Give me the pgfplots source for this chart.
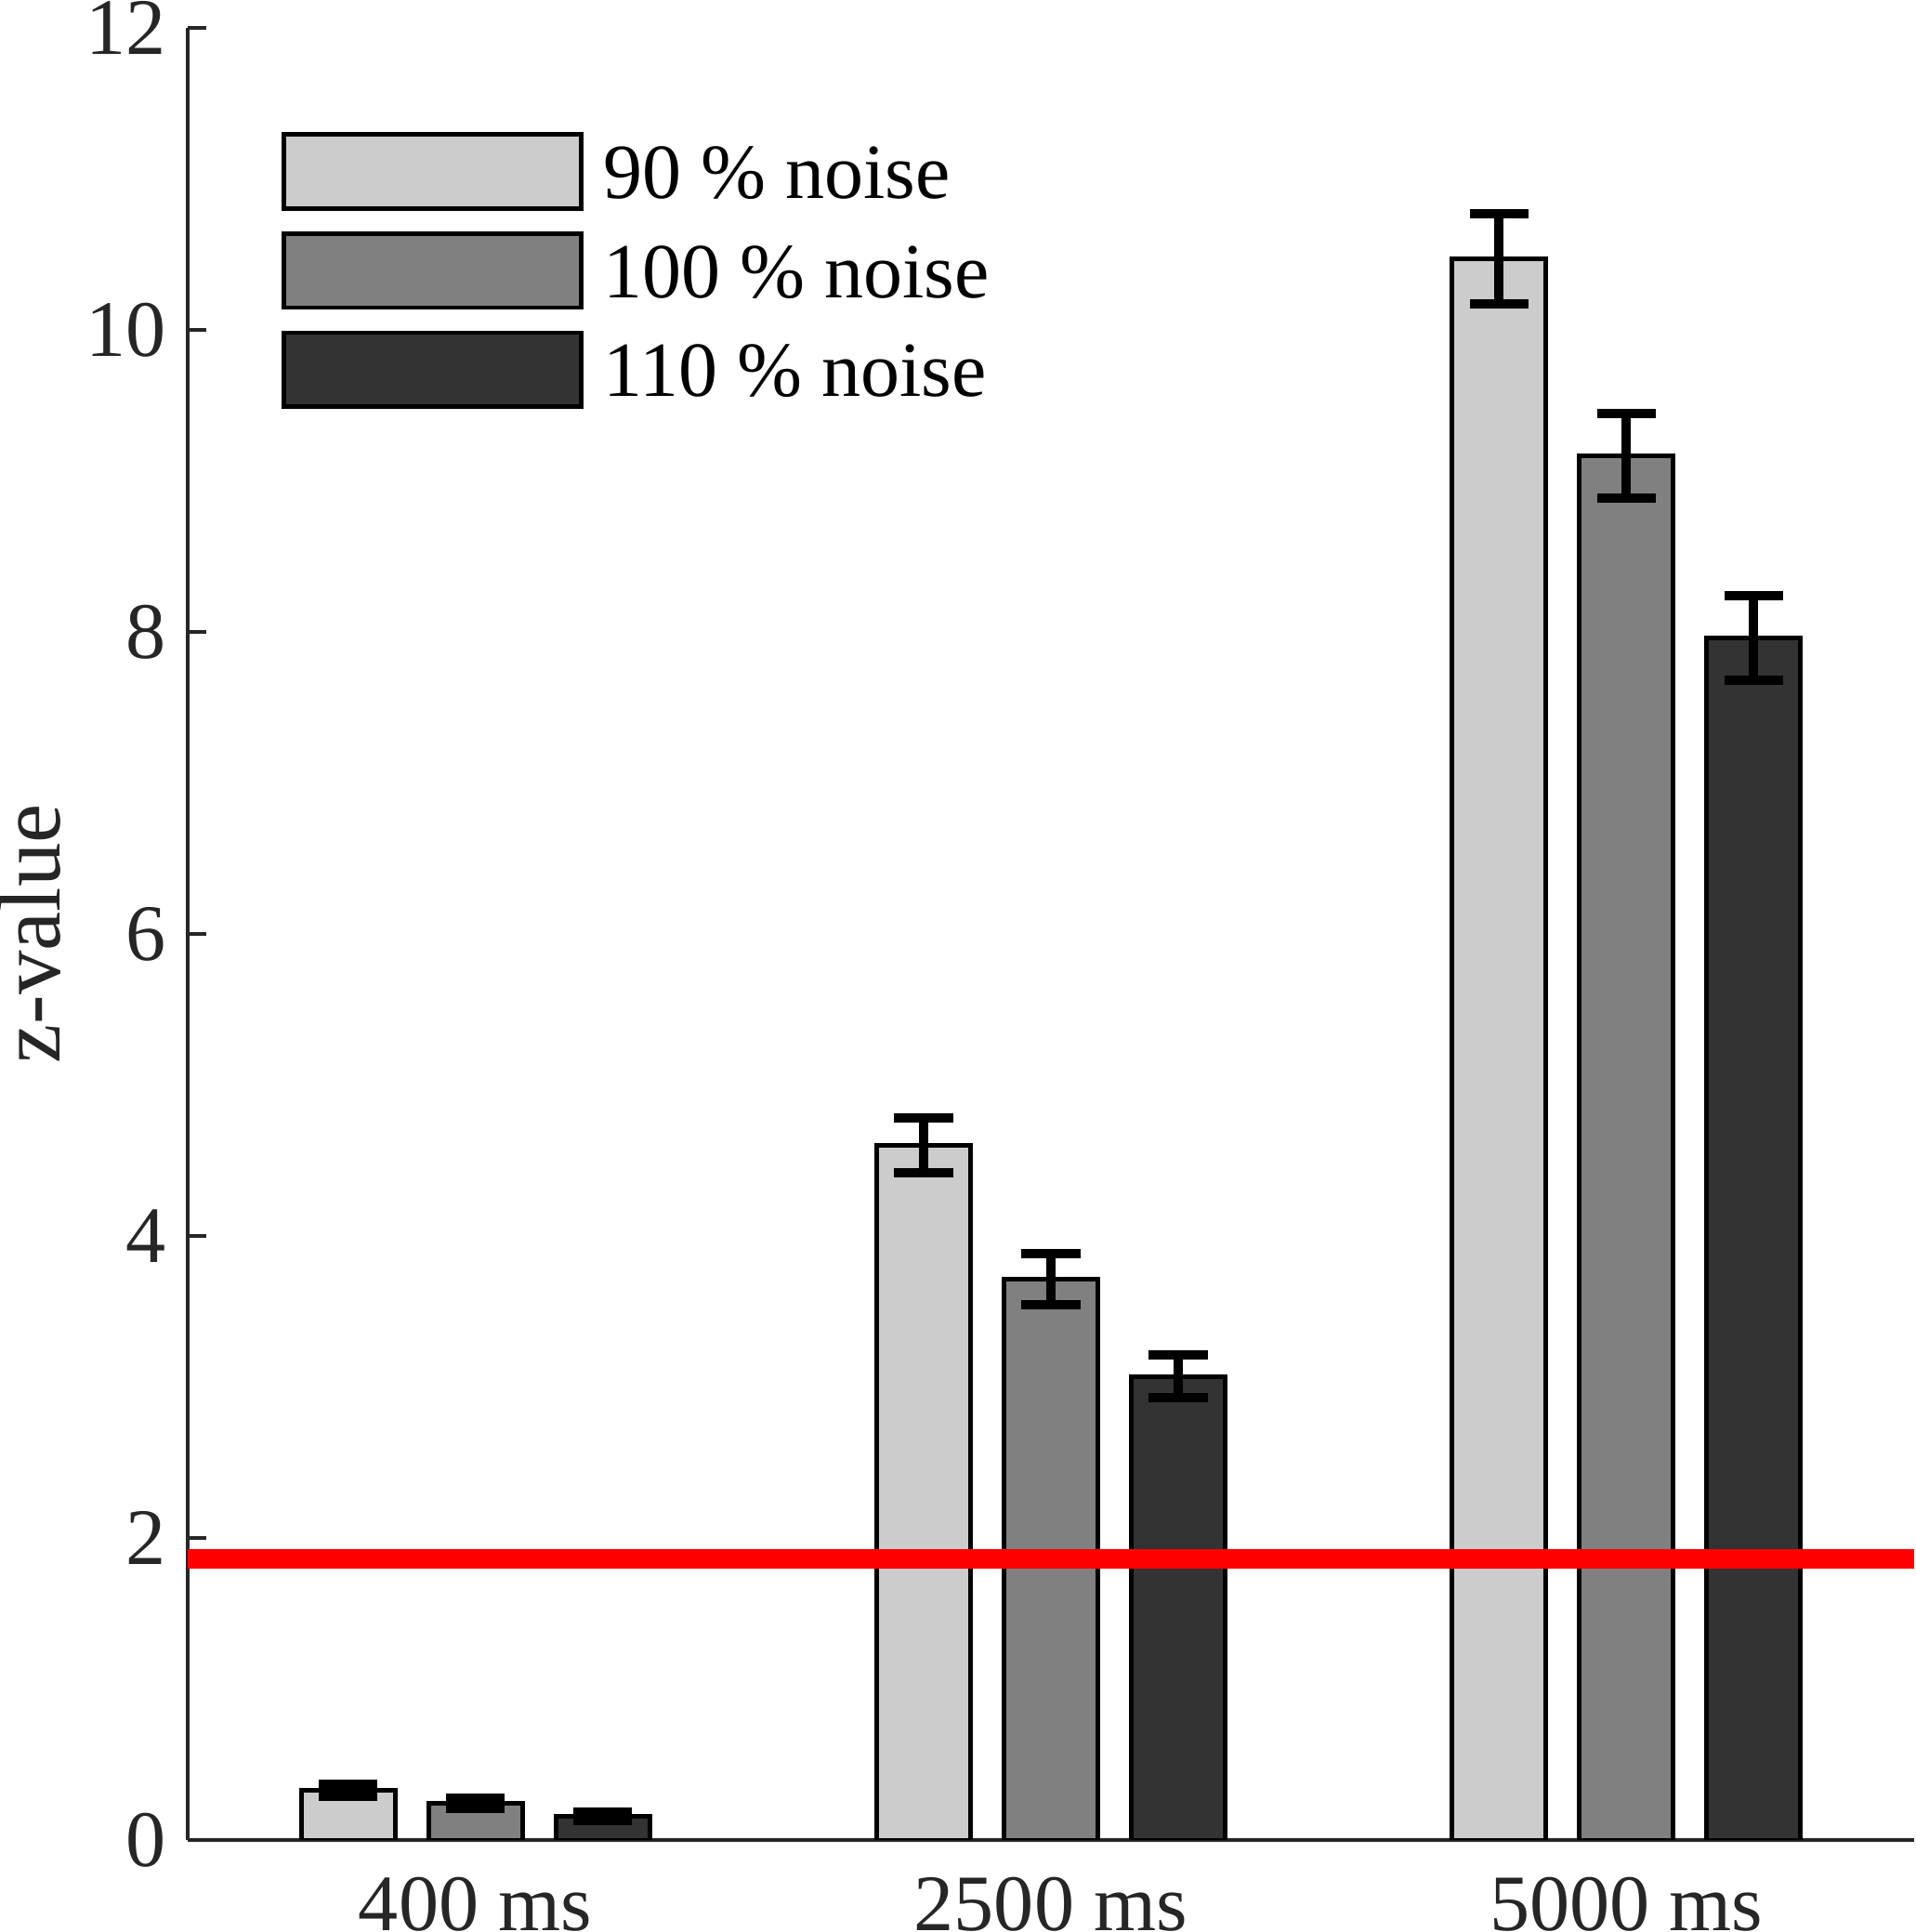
\documentclass[border=0pt]{standalone}
\usepackage{fontspec}
\setmainfont{Liberation Serif}
\usepackage{pgfplots}
\usepackage{pgfplotstable}
\pgfplotsset{compat=1.18}
\definecolor{cA}{HTML}{CCCCCC}
\definecolor{cB}{HTML}{808080}
\definecolor{cC}{HTML}{333333}
\definecolor{axc}{HTML}{262626}

\pgfplotstableread{
x y e
1 0.327 0.040
2 4.600 0.180
3 10.470 0.300
}\dA
\pgfplotstableread{
x y e
1 0.242 0.033
2 3.715 0.168
3 9.166 0.279
}\dB
\pgfplotstableread{
x y e
1 0.157 0.030
2 3.070 0.143
3 7.962 0.280
}\dC

\pgfplotsset{
  errstyle/.style={error bars/.cd, y dir=both, y explicit,
    error bar style={line width=2.26pt, black},
    error mark options={rotate=90, mark size=7.15pt, line width=2.26pt, black}},
}

\begin{document}
\begin{tikzpicture}
\begin{axis}[
  scale only axis, width=420.3pt, height=441.1pt,
  xmin=0.5, xmax=3.5, ymin=0, ymax=12,
  axis x line*=bottom, axis y line*=left,
  axis line style={axc, line width=1.1pt, -},
  xtick={1,2,3}, xticklabels={400 ms,2500 ms,5000 ms},
  ytick={0,2,...,12},
  x tick style={draw=none},
  y tick style={axc, line width=1pt},
  tick align=inside, major tick length=4.5pt,
  font=\fontsize{19.5}{23}\selectfont,
  tick label style={text=axc},
  /pgf/number format/assume math mode=true,
  xticklabel style={anchor=north, inner sep=0pt, yshift=-9pt},
  yticklabel style={anchor=east, inner sep=0pt, xshift=-5pt},
  ylabel={z-value},
  every axis y label/.style={at={(axis description cs:-0.07376,0.5)}, rotate=90, anchor=base, font=\fontsize{21.45}{25}\selectfont, text=axc},
  legend style={draw=none, fill=none, at={(axis description cs:0.0540,0.9428)}, anchor=north west, inner sep=0pt, row sep=5.0pt, column sep=4.8pt, cells={anchor=base west}, nodes={inner sep=0pt}, font=\fontsize{19}{23}\selectfont, text=black},
]
\addplot[ybar, bar width=22.85pt, bar shift=0pt, fill=cA, draw=black, line width=1.1pt,
  legend image code/.code={\draw[draw=black, fill=cA, line width=1.1pt] (0pt,-2.4pt) rectangle (72.4pt,15.6pt);},
  errstyle] table[x expr=\thisrow{x}-0.2213, y=y, y error=e] {\dA};
\addlegendentry{90 \% noise}
\addplot[ybar, bar width=22.85pt, bar shift=0pt, fill=cB, draw=black, line width=1.1pt,
  legend image code/.code={\draw[draw=black, fill=cB, line width=1.1pt] (0pt,-2.4pt) rectangle (72.4pt,15.6pt);},
  errstyle] table[x=x, y=y, y error=e] {\dB};
\addlegendentry{100 \% noise}
\addplot[ybar, bar width=22.85pt, bar shift=0pt, fill=cC, draw=black, line width=1.1pt,
  legend image code/.code={\draw[draw=black, fill=cC, line width=1.1pt] (0pt,-2.4pt) rectangle (72.4pt,15.6pt);},
  errstyle] table[x expr=\thisrow{x}+0.2213, y=y, y error=e] {\dC};
\addlegendentry{110 \% noise}
\addplot[red, sharp plot, line width=4.75pt, forget plot] coordinates {(0.5,1.864) (3.5,1.864)};
\coordinate (sw) at (rel axis cs:0,0);
\coordinate (ne) at (rel axis cs:1,1);
\end{axis}
\pgfresetboundingbox
\path[use as bounding box] ([xshift=-45.7pt,yshift=-22.4pt]sw) rectangle ([xshift=0.45pt,yshift=6.8pt]ne);
\end{tikzpicture}
\end{document}
